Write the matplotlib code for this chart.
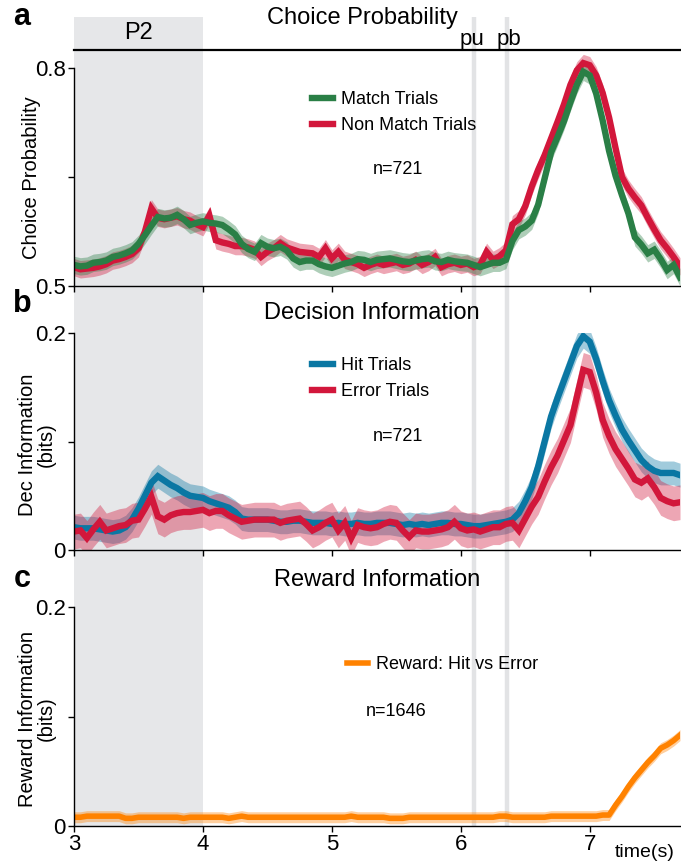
import numpy as np
import matplotlib.pyplot as plt

plt.rcParams['font.family'] = ['Liberation Sans', 'DejaVu Sans']

# time axis (s), 50 ms bins
t = np.round(np.arange(3.0, 7.7001, 0.05), 2)

# a: choice probability
cp_match = [0.529, 0.527, 0.528, 0.532, 0.533, 0.535, 0.540, 0.542, 0.545, 0.549,
            0.558, 0.570, 0.583, 0.595, 0.593, 0.594, 0.598, 0.592, 0.584, 0.587,
            0.589, 0.587, 0.586, 0.584, 0.578, 0.571, 0.558, 0.551, 0.547, 0.559,
            0.554, 0.552, 0.554, 0.549, 0.538, 0.533, 0.535, 0.535, 0.530, 0.527,
            0.525, 0.528, 0.531, 0.533, 0.537, 0.536, 0.533, 0.536, 0.537, 0.538,
            0.536, 0.534, 0.533, 0.535, 0.537, 0.538, 0.534, 0.533, 0.536, 0.534,
            0.533, 0.532, 0.529, 0.526, 0.529, 0.532, 0.532, 0.536, 0.562, 0.577,
            0.582, 0.590, 0.612, 0.648, 0.684, 0.705, 0.727, 0.753, 0.777, 0.795,
            0.790, 0.765, 0.728, 0.686, 0.652, 0.625, 0.600, 0.567, 0.557, 0.545,
            0.550, 0.537, 0.522, 0.529, 0.512]
cp_nonmatch = [0.526, 0.523, 0.524, 0.525, 0.527, 0.530, 0.535, 0.537, 0.540, 0.544,
               0.552, 0.575, 0.607, 0.594, 0.592, 0.594, 0.596, 0.592, 0.590, 0.585,
               0.581, 0.597, 0.563, 0.560, 0.558, 0.555, 0.555, 0.553, 0.550, 0.540,
               0.547, 0.552, 0.559, 0.553, 0.550, 0.547, 0.546, 0.545, 0.540, 0.552,
               0.538, 0.547, 0.536, 0.533, 0.530, 0.525, 0.529, 0.532, 0.529, 0.531,
               0.533, 0.529, 0.531, 0.536, 0.529, 0.533, 0.540, 0.526, 0.530, 0.532,
               0.529, 0.531, 0.526, 0.529, 0.547, 0.536, 0.541, 0.549, 0.585, 0.592,
               0.610, 0.637, 0.660, 0.680, 0.703, 0.726, 0.750, 0.777, 0.797, 0.807,
               0.804, 0.790, 0.766, 0.732, 0.690, 0.650, 0.634, 0.622, 0.611, 0.594,
               0.578, 0.563, 0.552, 0.540, 0.527]
cp_sem = 0.012

# b: decision information (bits)
dec_hit = [0.021, 0.020, 0.020, 0.020, 0.019, 0.018, 0.017, 0.018, 0.021, 0.028,
           0.038, 0.050, 0.062, 0.068, 0.064, 0.060, 0.057, 0.053, 0.050, 0.049,
           0.048, 0.045, 0.043, 0.041, 0.039, 0.035, 0.029, 0.028, 0.028, 0.028,
           0.028, 0.027, 0.026, 0.026, 0.027, 0.027, 0.026, 0.025, 0.025, 0.025,
           0.024, 0.025, 0.024, 0.024, 0.025, 0.024, 0.024, 0.025, 0.025, 0.025,
           0.024, 0.023, 0.024, 0.023, 0.024, 0.023, 0.024, 0.025, 0.025, 0.024,
           0.024, 0.023, 0.022, 0.022, 0.023, 0.024, 0.025, 0.026, 0.028, 0.034,
           0.045, 0.058, 0.077, 0.100, 0.123, 0.140, 0.156, 0.172, 0.188, 0.197,
           0.192, 0.176, 0.156, 0.138, 0.124, 0.111, 0.101, 0.092, 0.083, 0.077,
           0.073, 0.071, 0.071, 0.071, 0.069]
dec_err = [0.017, 0.018, 0.011, 0.019, 0.026, 0.018, 0.020, 0.022, 0.023, 0.027,
           0.028, 0.038, 0.049, 0.031, 0.028, 0.032, 0.034, 0.035, 0.035, 0.036,
           0.037, 0.034, 0.036, 0.036, 0.032, 0.029, 0.026, 0.027, 0.028, 0.028,
           0.028, 0.028, 0.025, 0.027, 0.028, 0.029, 0.024, 0.018, 0.021, 0.025,
           0.028, 0.018, 0.025, 0.011, 0.023, 0.021, 0.020, 0.021, 0.024, 0.026,
           0.025, 0.018, 0.012, 0.018, 0.017, 0.017, 0.018, 0.019, 0.021, 0.026,
           0.020, 0.018, 0.019, 0.017, 0.019, 0.021, 0.021, 0.024, 0.025, 0.018,
           0.029, 0.040, 0.049, 0.063, 0.076, 0.087, 0.101, 0.115, 0.141, 0.166,
           0.164, 0.145, 0.120, 0.105, 0.093, 0.084, 0.075, 0.065, 0.062, 0.066,
           0.058, 0.048, 0.045, 0.043, 0.044]
hit_sem = 0.011
err_sem = 0.016

# c: reward information (bits)
rew = [0.008, 0.008, 0.009, 0.009, 0.009, 0.009, 0.009, 0.009, 0.007, 0.007,
       0.008, 0.008, 0.008, 0.008, 0.008, 0.008, 0.008, 0.007, 0.008, 0.008,
       0.008, 0.008, 0.008, 0.008, 0.007, 0.008, 0.009, 0.008, 0.008, 0.008,
       0.008, 0.008, 0.008, 0.008, 0.008, 0.008, 0.008, 0.008, 0.008, 0.008,
       0.008, 0.008, 0.008, 0.009, 0.008, 0.008, 0.008, 0.008, 0.008, 0.007,
       0.007, 0.007, 0.008, 0.008, 0.008, 0.008, 0.008, 0.008, 0.008, 0.008,
       0.008, 0.008, 0.008, 0.008, 0.008, 0.008, 0.009, 0.009, 0.008, 0.008,
       0.008, 0.008, 0.008, 0.008, 0.009, 0.009, 0.009, 0.009, 0.009, 0.009,
       0.009, 0.009, 0.010, 0.010, 0.019, 0.027, 0.036, 0.044, 0.051, 0.058,
       0.064, 0.071, 0.074, 0.078, 0.083]
rew_sem = 0.005

# task epochs
p2_on, p2_off = 3.0, 4.0
pu_t, pb_t = 6.10, 6.355

green = '#2a7f46'
red = '#d2173b'
blue = '#0a77a3'
orange = '#ff8200'
shade = '#e6e7e9'

W, H = 681, 863
fig = plt.figure(figsize=(W / 100, H / 100), dpi=100)

def box(x0, x1, ytop, ybot):
    return [x0 / W, 1 - ybot / H, (x1 - x0) / W, (ybot - ytop) / H]

XL = (3.0, 7.7)
narrow = ['Liberation Sans Narrow', 'Liberation Sans', 'DejaVu Sans']

# background shading shared by all panels
bg = fig.add_axes(box(74, 680, 17, 826))
bg.set_xlim(*XL)
bg.axvspan(p2_on, p2_off, color=shade, lw=0)
for tt in (pu_t, pb_t):
    bg.axvline(tt, color='#e2e3e5', lw=3.2)
bg.axis('off')

ax_a = fig.add_axes(box(74, 680, 50, 286))
ax_b = fig.add_axes(box(74, 680, 333, 550))
ax_c = fig.add_axes(box(74, 680, 607, 826))

def band(ax, y, s, c):
    y = np.asarray(y)
    ax.fill_between(t, y - s, y + s, color=c, alpha=0.38, lw=0)

band(ax_a, cp_nonmatch, cp_sem, red)
band(ax_a, cp_match, cp_sem, green)
ax_a.plot(t, cp_nonmatch, color=red, lw=4.6, label='Non Match Trials', solid_joinstyle='miter')
ax_a.plot(t, cp_match, color=green, lw=4.6, label='Match Trials', solid_joinstyle='miter')

band(ax_b, dec_hit, hit_sem, blue)
band(ax_b, dec_err, err_sem, red)
ax_b.plot(t, dec_hit, color=blue, lw=4.6, label='Hit Trials', solid_joinstyle='miter')
ax_b.plot(t, dec_err, color=red, lw=4.6, label='Error Trials', solid_joinstyle='miter')

band(ax_c, rew, rew_sem, orange)
ax_c.plot(t, rew, color=orange, lw=4.0, label='Reward: Hit vs Error')

for ax in (ax_a, ax_b, ax_c):
    ax.set_facecolor('none')
    ax.set_xlim(*XL)
    ax.spines['right'].set_visible(False)
    ax.set_xticks([3, 4, 5, 6, 7])
    ax.tick_params(direction='out', length=4, width=1, labelsize=16, pad=2)
    for s in ('left', 'bottom', 'top'):
        ax.spines[s].set_linewidth(1)

ax_a.set_ylim(0.5, 0.825)
ax_a.spines['left'].set_bounds(0.5, 0.8)
ax_a.spines['top'].set_linewidth(1.6)
ax_a.set_yticks([0.5, 0.65, 0.8], ['0.5', '', '0.8'])
ax_a.set_xticklabels([])

for ax in (ax_b, ax_c):
    ax.spines['top'].set_visible(False)
    ax.set_ylim(0, 0.2)
    ax.set_yticks([0, 0.1, 0.2], ['0', '', '0.2'])
ax_b.set_xticklabels([])
ax_c.set_xticklabels(['3', '4', '5', '6', '7'])

for ax in (ax_a, ax_b, ax_c):
    for lbl in ax.get_xticklabels() + ax.get_yticklabels():
        lbl.set_family(narrow)

ax_a.set_ylabel('Choice Probability', fontsize=14.5)
ax_a.yaxis.set_label_coords(-0.054, 0.46)
ax_b.set_ylabel('Dec Information\n(bits)', fontsize=14.5, linespacing=1.0)
ax_b.yaxis.set_label_coords(-0.030, 0.484)
ax_c.set_ylabel('Reward Information\n(bits)', fontsize=14.5, linespacing=1.0)
ax_c.yaxis.set_label_coords(-0.030, 0.49)

leg_kw = dict(frameon=False, fontsize=13, handlelength=1.15, handletextpad=0.45,
              labelspacing=0.5, borderpad=0, borderaxespad=0, loc='upper left',
              bbox_transform=fig.transFigure)
h, l = ax_a.get_legend_handles_labels()
ax_a.legend(h[::-1], l[::-1], bbox_to_anchor=(312 / W, 1 - 91 / H), **leg_kw)
ax_b.legend(bbox_to_anchor=(312 / W, 1 - 357 / H), **leg_kw)
ax_c.legend(bbox_to_anchor=(347 / W, 1 - 656 / H), **leg_kw)

fig.text(398 / W, 1 - 170 / H, 'n=721', fontsize=13, ha='center', va='center')
fig.text(398 / W, 1 - 436 / H, 'n=721', fontsize=13, ha='center', va='center')
fig.text(396 / W, 1 - 712 / H, 'n=1646', fontsize=13, ha='center', va='center')

fig.text(362 / W, 1 - 18 / H, 'Choice Probability', fontsize=17, ha='center', va='center')
fig.text(372 / W, 1 - 313 / H, 'Decision Information', fontsize=17, ha='center', va='center')
fig.text(377 / W, 1 - 580 / H, 'Reward Information', fontsize=17, ha='center', va='center')

fig.text(138 / W, 1 - 33 / H, 'P2', fontsize=17, ha='center', va='center')
fig.text(472 / W, 1 - 39 / H, 'pu', fontsize=16, ha='center', va='center')
fig.text(509 / W, 1 - 39 / H, 'pb', fontsize=16, ha='center', va='center')

for lab, yy in (('a', 17), ('b', 304), ('c', 579)):
    fig.text(22 / W, 1 - yy / H, lab, fontsize=22, fontweight='bold', ha='center', va='center')

fig.text(645 / W, 1 - 852 / H, 'time(s)', fontsize=14, ha='center', va='center')

fig.savefig('out.png', dpi=100)
